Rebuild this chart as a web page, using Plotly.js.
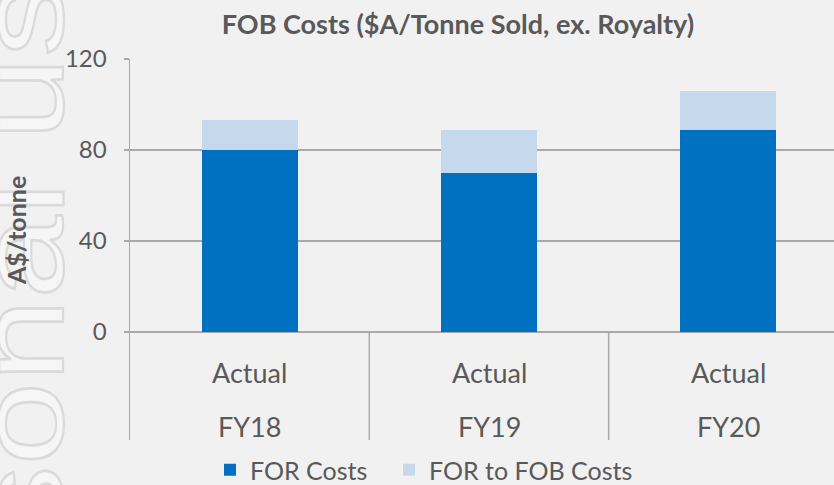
<!DOCTYPE html>
<html><head><meta charset="utf-8">
<script src="https://cdn.plot.ly/plotly-3.0.1.min.js"></script>
<style>html,body{margin:0;padding:0;overflow:hidden;background:#F1F1F1;width:834px;height:485px}</style>
</head><body><div id="chart"></div>
<script>
const categories = ['FY18', 'FY19', 'FY20'];
const subLabels = ['Actual', 'Actual', 'Actual'];
const forCosts = [80, 70, 89];
const forToFobCosts = [13, 19, 17];
const yTicks = [0, 40, 80, 120];
const seriesNames = ['FOR Costs', 'FOR to FOB Costs'];

const W = 848, H = 485, L = 130, T = 59, B = 45;
const plotW = W - L, plotH = H - T - B;
const yMin = -47.47, yMax = 120;
const txt = '#595959', grid = '#A9A9A9';
const font = 'Lato, "Open Sans", sans-serif';

const wm = '<svg xmlns="http://www.w3.org/2000/svg" width="848" height="485" viewBox="0 0 848 485">' +
  '<text transform="translate(63,1024) rotate(-90) scale(1.25,1)" text-anchor="start" font-family="Liberation Sans, Arial, sans-serif" font-size="120" fill="#F6F6F6" stroke="#DADADA" stroke-width="2.2">For personal use only</text></svg>';

const traces = [
  {type: 'bar', name: seriesNames[0], x: categories, y: forCosts, marker: {color: '#0070C0'}, hoverinfo: 'y', legend: 'legend'},
  {type: 'bar', name: seriesNames[1], x: categories, y: forToFobCosts, marker: {color: '#C6D9EC'}, hoverinfo: 'y', legend: 'legend2'}
];

const annotations = [];
categories.forEach((c, i) => {
  annotations.push({x: c, y: -17.6, xref: 'x', yref: 'y', text: subLabels[i], showarrow: false,
    font: {family: font, size: 27, color: txt}, yanchor: 'middle'});
  annotations.push({x: c, y: -41.4, xref: 'x', yref: 'y', text: c, showarrow: false,
    font: {family: font, size: 27, color: txt}, yanchor: 'middle'});
});
annotations.push({x: (16 - L) / plotW, y: (440 - 231) / plotH, xref: 'paper', yref: 'paper', text: '<b>A$/tonne</b>',
  textangle: -90, showarrow: false, xanchor: 'center', yanchor: 'middle', font: {family: font, size: 25, color: txt}});

const shapes = [0.5, 1.5].map(v => ({type: 'line', xref: 'x', yref: 'y', x0: v, x1: v, y0: yMin, y1: 0,
  line: {color: grid, width: 1.5}}));

const legendBase = {orientation: 'h', xref: 'container', xanchor: 'left', y: 15 / H, yref: 'container', yanchor: 'middle',
  font: {family: font, size: 25, color: txt}, bgcolor: 'rgba(0,0,0,0)'};

const layout = {
  width: W, height: H,
  margin: {l: L, r: 0, t: T, b: B, pad: 0, autoexpand: false},
  paper_bgcolor: '#F1F1F1', plot_bgcolor: 'rgba(0,0,0,0)',
  barmode: 'stack', bargap: 0.6,
  title: {text: '<b>FOB Costs ($A/Tonne Sold, ex. Royalty)</b>', font: {family: font, size: 27, color: txt},
    x: 458 / W, xref: 'container', xanchor: 'center', y: 1 - 25 / H, yref: 'container', yanchor: 'middle'},
  xaxis: {type: 'category', range: [-0.5, 2.5], showticklabels: false, showgrid: false, zeroline: false,
    showline: false, ticks: '', fixedrange: true, automargin: false},
  yaxis: {range: [yMin, yMax], tickvals: yTicks, ticktext: yTicks.map(String), ticks: 'outside', ticklen: 5,
    tickcolor: grid, tickwidth: 1.5, showgrid: true, gridcolor: grid, gridwidth: 1.5, zeroline: false,
    showline: true, linecolor: grid, linewidth: 1.5, tickfont: {family: font, size: 24, color: txt},
    ticklabelstandoff: 12, automargin: false},
  legend: Object.assign({}, legendBase, {x: 210 / W}),
  legend2: Object.assign({}, legendBase, {x: 389 / W}),
  showlegend: true,
  annotations: annotations,
  shapes: shapes,
  images: [{source: 'data:image/svg+xml;charset=utf-8,' + encodeURIComponent(wm), xref: 'paper', yref: 'paper',
    x: -L / plotW, y: 1 + T / plotH, sizex: W / plotW, sizey: H / plotH, sizing: 'stretch',
    xanchor: 'left', yanchor: 'top', layer: 'below'}]
};

Plotly.newPlot('chart', traces, layout, {displayModeBar: false, staticPlot: true});
</script></body></html>
